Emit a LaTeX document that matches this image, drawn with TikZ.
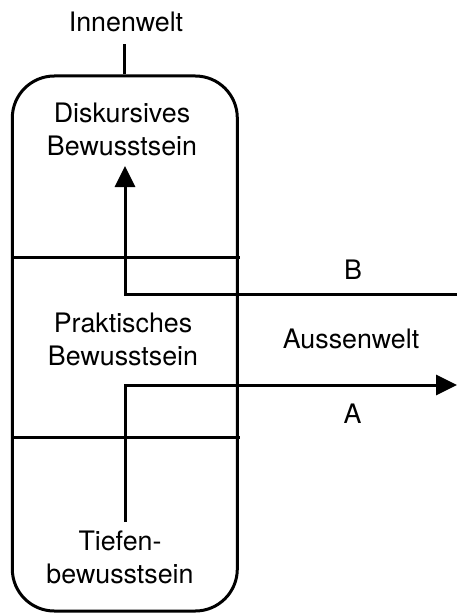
\documentclass[tikz,border=0pt]{standalone}
\usepackage{fontspec}
\setmainfont{TeX Gyre Heros}
\usetikzlibrary{arrows.meta}
\begin{document}
\begin{tikzpicture}[x=1pt,y=-1pt, line width=3pt,
  lbl/.style={font=\fontsize{26.8}{33}\selectfont, inner sep=0pt, align=center},
  tip/.style={-{Triangle[length=21pt,width=20pt]}}]
\useasboundingbox (0,0) rectangle (457,615);
% main box
\node[draw, rounded corners=42pt, minimum width=225pt, minimum height=535pt, inner sep=0pt] (box) at (124.8,343.5) {};
% labels (base anchor = baseline of last line)
\node[lbl, anchor=base] (inn) at (126,31.5) {Innenwelt};
\node[lbl, anchor=base] (disk) at (122,155) {Diskursives\\Bewusstsein};
\node[lbl, anchor=base] (prak) at (123,365) {Praktisches\\Bewusstsein};
\node[lbl, anchor=base] (tief) at (120,583) {Tiefen-\\bewusstsein};
\node[lbl, anchor=base] (B) at (353,279.5) {B};
\node[lbl, anchor=base] (auss) at (351,348) {Aussenwelt};
\node[lbl, anchor=base] (A) at (352.5,423) {A};
% stub towards Innenwelt
\draw (box.north) -- ++(0,-30);
% dividers
\coordinate (d1l) at (12,257);  \coordinate (d1r) at (240,257);
\coordinate (d2l) at (12,437);  \coordinate (d2r) at (240,437);
\draw (d1l) -- (d1r);
\draw (d2l) -- (d2r);
% B path
\coordinate (bend) at (457,294);
\coordinate (bcorner) at (125,294);
\coordinate (btip) at (125,166);
\draw[tip] (bend) -- (bcorner) -- (btip);
% A path
\coordinate (astart) at (125,522);
\coordinate (acorner) at (125,385);
\coordinate (atip) at (457,385);
\draw[tip] (astart) -- (acorner) -- (atip);
\end{tikzpicture}
\end{document}
